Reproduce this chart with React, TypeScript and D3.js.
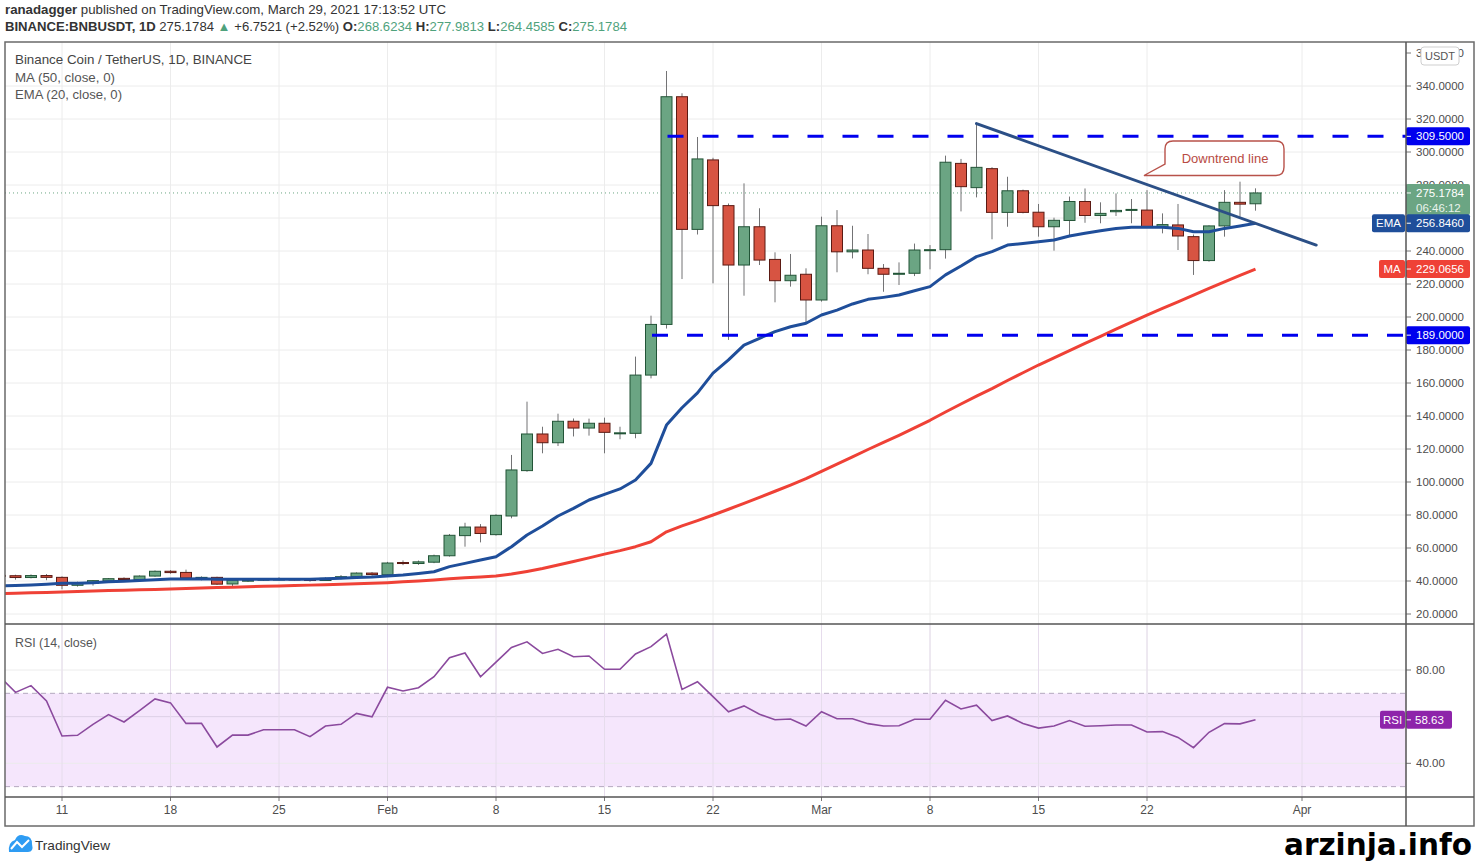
import React from "react";
import * as d3 from "d3";

// ---------- DATA ----------
const START_DATE = "2021-01-07";

const opens = [
  43.4, 43.2, 42.1, 43.3, 42.2, 37.4, 38.6, 40.0, 41.6, 40.9, 43.0, 45.9, 45.2, 41.8, 42.2, 38.2, 40.4, 40.5, 41.1, 41.2, 41.1, 40.3, 41.6, 42.6, 44.8,
  43.8, 51.2, 50.6, 51.4, 55.3, 67.5, 72.7, 68.1, 79.4, 106.9, 129.1, 123.8, 136.8, 132.7, 135.6, 129.2, 129.5, 164.8, 195.5, 333.5, 253.1, 295.2, 267.5, 231.5, 254.7, 234.9, 222.0, 225.9,
  210.3, 255.3, 239.5, 240.6, 229.5, 225.9, 226.5, 240.4, 240.8, 293.1, 278.4, 289.9, 263.4, 276.5, 263.5, 254.7, 258.5, 270.0, 261.5, 263.8, 264.6, 264.8, 254.3, 255.8, 248.7, 234.2, 255.2, 269.5, 268.6234,
];
const highs = [
  44.2, 43.8, 44.0, 44.2, 42.8, 39.6, 40.6, 41.8, 42.2, 43.4, 46.4, 46.6, 46.9, 42.8, 42.6, 40.8, 41.0, 41.5, 42.2, 41.8, 41.6, 42.2, 43.6, 45.2, 45.4,
  51.6, 52.5, 52.4, 56.0, 68.5, 75.3, 74.5, 80.5, 116.4, 148.7, 133.5, 141.4, 138.5, 138.4, 139.0, 133.5, 176.0, 200.8, 349.1, 335.6, 309.1, 296.5, 268.8, 281.0, 265.9, 239.2, 238.2, 229.5,
  260.8, 264.8, 255.3, 250.3, 232.1, 233.1, 244.5, 243.6, 297.8, 295.8, 317.2, 290.8, 285.0, 277.2, 268.5, 260.2, 273.0, 277.9, 269.5, 274.9, 271.5, 276.9, 262.8, 268.5, 250.0, 255.6, 276.9, 282.0, 277.9813,
];
const lows = [
  42.0, 40.8, 41.6, 40.5, 35.0, 36.6, 37.2, 39.4, 39.8, 40.4, 42.6, 44.4, 40.8, 40.4, 37.6, 36.4, 39.4, 40.0, 40.4, 40.2, 39.6, 40.0, 41.0, 42.2, 43.2,
  43.2, 49.6, 49.8, 50.8, 54.8, 60.8, 63.4, 67.5, 78.0, 106.2, 117.4, 121.8, 127.6, 128.1, 117.4, 125.9, 126.5, 162.8, 193.0, 223.0, 250.0, 220.4, 186.1, 212.9, 231.5, 208.9, 218.4, 196.2,
  209.3, 227.1, 235.5, 225.9, 215.3, 219.4, 224.8, 228.9, 235.4, 264.0, 272.5, 247.1, 254.7, 262.8, 248.7, 240.2, 248.7, 257.1, 256.8, 261.2, 256.8, 254.0, 250.7, 240.6, 225.5, 233.5, 248.7, 260.8, 264.4585,
];
const closes = [
  42.9, 42.1, 43.3, 42.2, 37.4, 38.9, 40.2, 41.4, 40.9, 43.0, 45.9, 45.1, 41.8, 42.2, 38.1, 40.4, 40.5, 41.1, 41.2, 41.1, 40.3, 41.6, 42.6, 44.8, 43.9,
  50.9, 50.9, 51.6, 55.3, 67.7, 72.7, 68.8, 79.8, 107.3, 129.1, 123.8, 136.8, 132.7, 135.6, 130.1, 129.8, 164.8, 195.5, 333.5, 253.1, 295.8, 267.5, 231.5, 254.7, 234.5, 222.0, 225.3, 210.3,
  255.3, 239.5, 240.6, 229.5, 225.9, 226.5, 240.6, 240.8, 293.8, 279.0, 290.7, 263.4, 276.5, 263.4, 254.7, 258.6, 270.0, 261.5, 262.8, 264.6, 265.2, 254.3, 256.0, 249.1, 234.2, 255.2, 269.5, 268.4, 275.1784,
];
const ema20 = [
  37.0, 37.3, 37.6, 38.0, 38.6, 38.7, 39.0, 39.5, 39.9, 40.3, 40.8, 41.2, 41.2, 41.3, 41.0, 41.0, 41.0, 41.0, 41.1, 41.1, 41.1, 41.3, 41.6, 42.1, 42.4,
  43.0, 43.6, 44.6, 45.6, 48.7, 50.7, 52.7, 54.7, 60.8, 67.9, 73.3, 79.4, 84.0, 89.1, 92.5, 95.8, 101.2, 111.3, 134.5, 145.0, 154.0, 166.0, 174.0, 183.0, 187.1, 191.1, 194.1, 196.2,
  201.2, 204.2, 207.9, 210.7, 211.9, 213.3, 215.9, 218.4, 225.5, 230.9, 236.6, 239.6, 243.6, 244.6, 245.6, 246.7, 249.1, 250.7, 252.3, 253.7, 254.4, 254.4, 254.4, 253.7, 251.7, 251.7, 253.7, 255.2, 256.846,
];
const ma50 = [
  32.4, 32.6, 32.9, 33.1, 33.4, 33.6, 33.9, 34.2, 34.4, 34.7, 34.9, 35.2, 35.5, 35.7, 36.0, 36.2, 36.5, 36.8, 37.0, 37.3, 37.5, 37.8, 38.1, 38.4, 38.7,
  39.0, 39.5, 40.0, 40.6, 41.3, 41.9, 42.4, 43.0, 44.2, 45.8, 47.6, 49.7, 51.8, 54.0, 56.3, 58.4, 60.8, 63.8, 69.8, 73.4, 76.6, 80.0, 83.5, 87.0, 90.7, 94.4, 98.1, 102.0,
  106.5, 110.8, 115.2, 119.7, 124.0, 128.3, 132.8, 137.4, 142.4, 147.3, 152.0, 156.6, 161.5, 166.2, 170.9, 175.2, 179.6, 184.0, 188.3, 192.6, 196.9, 201.2, 205.2, 209.2, 213.3, 217.3, 221.3, 225.2, 229.0656,
];
const rsi14 = [
  77.0, 70.4, 73.3, 66.7, 51.7, 52.0, 56.7, 60.9, 57.7, 62.6, 67.6, 65.9, 57.1, 57.1, 47.0, 52.1, 52.1, 54.4, 54.4, 54.4, 51.4, 56.0, 56.7, 61.4, 59.9,
  72.6, 71.0, 72.4, 77.1, 85.3, 87.3, 77.1, 83.4, 89.7, 92.1, 87.1, 88.9, 85.7, 86.0, 80.3, 80.3, 86.9, 90.0, 95.4, 71.7, 75.0, 68.6, 62.1, 64.6, 61.0, 58.7, 59.0, 56.0,
  62.1, 59.1, 59.1, 57.0, 56.0, 56.1, 58.9, 58.9, 67.0, 63.3, 64.9, 58.3, 60.3, 57.1, 55.1, 56.0, 58.3, 55.9, 56.1, 56.4, 56.4, 53.4, 53.6, 51.1, 46.7, 53.3, 57.0, 56.9, 58.63,
];

const xTickDates = ["2021-01-11", "2021-01-18", "2021-01-25", "2021-02-01", "2021-02-08", "2021-02-15", "2021-02-22", "2021-03-01", "2021-03-08", "2021-03-15", "2021-03-22", "2021-04-01"];
const xTickLabels = ["11", "18", "25", "Feb", "8", "15", "22", "Mar", "8", "15", "22", "Apr"];
// 260 is hidden behind the price/EMA tags in the reference
const priceTicks = [20, 40, 60, 80, 100, 120, 140, 160, 180, 200, 220, 240, 280, 300, 320, 340, 360];
const priceGrid = [20, 40, 60, 80, 100, 120, 140, 160, 180, 200, 220, 240, 260, 280, 300, 320, 340];
const rsiGrid = [40, 60, 80];
const rsiTickLabels = [40, 80];
const levelPrices = [309.5, 189.0];
const levelStarts = ["2021-02-19", "2021-02-18"];
const trendDates = ["2021-03-11T00:00:00Z", "2021-04-01T22:00:00Z"];
const trendPrices = [317.2, 243.6];

// ---------- LAYOUT ----------
const W = 1476;
const H = 862;
const L = 5;
const AX = 1406;
const R = 1474;
const TOP = 42;
const MAIN_B = 624;
const RSI_B = 797;
const XA_B = 826;

const FONT = "'Liberation Sans', Arial, sans-serif";
const UP = "#6BA583";
const UP_B = "#225437";
const DN = "#D75442";
const DN_B = "#5B1A13";
const WICK = "#737375";
const EMA_C = "#1f4e9a";
const MA_C = "#ef4136";
const LVL_C = "#0000ee";
const TREND_C = "#2b4f86";
const RSI_C = "#8b4a9e";
const RSI_TAG = "#8e24aa";
const GRID = "#ececec";
const AXIS_TXT = "#4d4d4d";

const toDate = (s: string) => new Date(s.length <= 10 ? s + "T00:00:00Z" : s);
const dates = opens.map((_, i) => d3.utcDay.offset(toDate(START_DATE), i));

const x = d3.scaleUtc().domain([toDate("2021-01-11"), toDate("2021-04-01")]).range([62, 1302]);
const y = d3.scaleLinear().domain([20, 340]).range([614, 86]);
const yR = d3.scaleLinear().domain([40, 80]).range([763.3, 670]);

const CW = 11;

const priceLine = d3
  .line<number>()
  .x((_, i) => x(dates[i]))
  .y((v) => y(v));
const rsiLine = d3
  .line<number>()
  .x((_, i) => x(dates[i]))
  .y((v) => yR(v));

const fmt4 = d3.format(".4f");

function PriceTag({ v, color, text, sub }: { v: number; color: string; text: string; sub?: string }) {
  const cy = y(v);
  const h = sub ? 31 : 18;
  const top = sub ? cy - 9 : cy - h / 2;
  return (
    <g>
      <rect x={AX} y={top} width={64} height={h} fill={color} rx={2} />
      <line x1={AX} x2={AX + 5} y1={cy} y2={cy} stroke="#fff" strokeWidth={1} />
      <text x={AX + 10} y={cy} dominantBaseline="central" fill="#fff" fontSize={11.5} fontFamily={FONT}>
        {text}
      </text>
      {sub && (
        <text x={AX + 10} y={cy + 15} dominantBaseline="central" fill="#e8f3ec" fontSize={11.5} fontFamily={FONT}>
          {sub}
        </text>
      )}
    </g>
  );
}

function SideTag({ cy, x0, color, text }: { cy: number; x0: number; color: string; text: string }) {
  return (
    <g>
      <rect x={x0} y={cy - 9} width={AX - 1 - x0} height={18} rx={2} fill={color} />
      <text x={(x0 + AX - 1) / 2} y={cy} textAnchor="middle" dominantBaseline="central" fill="#fff" fontSize={11.5} fontFamily={FONT}>
        {text}
      </text>
    </g>
  );
}

export default function App() {
  const n = opens.length;
  const lastClose = closes[n - 1];
  const lastY = y(lastClose);
  const tx0 = x(toDate(trendDates[0]));
  const tx1 = x(toDate(trendDates[1]));
  const ty0 = y(trendPrices[0]);
  const ty1 = y(trendPrices[1]);

  return (
    <svg width={W} height={H} style={{ position: "absolute", left: 0, top: 0, background: "#fff" }} fontFamily={FONT}>
      <defs>
        <clipPath id="mainClip">
          <rect x={L} y={TOP} width={AX - L} height={MAIN_B - TOP} />
        </clipPath>
        <clipPath id="rsiClip">
          <rect x={L} y={MAIN_B} width={AX - L} height={RSI_B - MAIN_B} />
        </clipPath>
      </defs>
      <rect x={0} y={0} width={W} height={H} fill="#fff" />

      {/* Header */}
      <text x={5} y={14} fontSize={13} fill="#333" textLength={441} lengthAdjust="spacingAndGlyphs">
        <tspan fontWeight="bold">ranadagger</tspan>
        <tspan> published on TradingView.com, March 29, 2021 17:13:52 UTC</tspan>
      </text>
      <text x={5} y={31} fontSize={13} fill="#333" textLength={622} lengthAdjust="spacingAndGlyphs">
        <tspan fontWeight="bold">BINANCE:BNBUSDT, 1D</tspan>
        <tspan> 275.1784 </tspan>
        <tspan fill="#4fa27c">▲</tspan>
        <tspan> +6.7521 (+2.52%) </tspan>
        <tspan fontWeight="bold">O:</tspan>
        <tspan fill="#4fa27c">268.6234</tspan>
        <tspan fontWeight="bold"> H:</tspan>
        <tspan fill="#4fa27c">277.9813</tspan>
        <tspan fontWeight="bold"> L:</tspan>
        <tspan fill="#4fa27c">264.4585</tspan>
        <tspan fontWeight="bold"> C:</tspan>
        <tspan fill="#4fa27c">275.1784</tspan>
      </text>

      {/* Grid */}
      <g>
        {xTickDates.map((d) => (
          <line key={"vg" + d} x1={x(toDate(d))} x2={x(toDate(d))} y1={TOP} y2={RSI_B} stroke={GRID} strokeWidth={1} />
        ))}
        {priceGrid.map((p) => (
          <line key={"hg" + p} x1={L} x2={AX} y1={y(p)} y2={y(p)} stroke={GRID} strokeWidth={1} clipPath="url(#mainClip)" />
        ))}
      </g>

      {/* RSI band */}
      <g clipPath="url(#rsiClip)">
        <rect x={L} y={yR(70)} width={AX - L} height={yR(30) - yR(70)} fill="#f5e6fc" />
        {rsiGrid.map((t) => (
          <line key={"rg" + t} x1={L} x2={AX} y1={yR(t)} y2={yR(t)} stroke={t === 60 ? "#ddd0e6" : GRID} strokeWidth={1} />
        ))}
        {xTickDates.map((d) => (
          <line key={"rvg" + d} x1={x(toDate(d))} x2={x(toDate(d))} y1={MAIN_B} y2={RSI_B} stroke="#e6dcec" strokeWidth={1} />
        ))}
        <line x1={L} x2={AX} y1={yR(70)} y2={yR(70)} stroke="#b4a8bf" strokeDasharray="5 4" />
        <line x1={L} x2={AX} y1={yR(30)} y2={yR(30)} stroke="#b4a8bf" strokeDasharray="5 4" />
        <path d={rsiLine(rsi14) || ""} fill="none" stroke={RSI_C} strokeWidth={1.6} />
      </g>

      {/* Main pane */}
      <g clipPath="url(#mainClip)">
        <line x1={L} x2={AX} y1={lastY} y2={lastY} stroke={UP} strokeWidth={1} strokeDasharray="1 3" />
        {opens.map((o, i) => {
          const c = closes[i];
          const up = c >= o;
          const cx = x(dates[i]);
          const yt = y(Math.max(o, c));
          const yb = y(Math.min(o, c));
          return (
            <g key={"c" + i}>
              <line x1={cx} x2={cx} y1={y(highs[i])} y2={y(lows[i])} stroke={WICK} strokeWidth={1} />
              <rect
                x={cx - CW / 2}
                y={yt}
                width={CW}
                height={Math.max(1, yb - yt)}
                fill={up ? UP : DN}
                stroke={up ? UP_B : DN_B}
                strokeWidth={1}
              />
            </g>
          );
        })}
        <path d={priceLine(ma50) || ""} fill="none" stroke={MA_C} strokeWidth={3} strokeLinejoin="round" />
        <path d={priceLine(ema20) || ""} fill="none" stroke={EMA_C} strokeWidth={3} strokeLinejoin="round" />
        {levelPrices.map((p, i) => (
          <line
            key={"lvl" + p}
            x1={x(toDate(levelStarts[i])) + 1}
            x2={AX}
            y1={y(p)}
            y2={y(p)}
            stroke={LVL_C}
            strokeWidth={3}
            strokeDasharray="16 19"
          />
        ))}
        <line x1={tx0} y1={ty0} x2={tx1} y2={ty1} stroke={TREND_C} strokeWidth={3} strokeLinecap="round" />
        {/* Callout */}
        <path
          d="M 1144 175.5 L 1165 164 L 1165 149 Q 1165 141 1173 141 L 1276 141 Q 1284 141 1284 149 L 1284 167 Q 1284 175.5 1276 175.5 Z"
          fill="#fff"
          stroke="#b8524a"
          strokeWidth={1.4}
        />
        <text x={1225} y={158} textAnchor="middle" dominantBaseline="central" fontSize={13} fill="#b84b43">
          Downtrend line
        </text>
      </g>

      {/* Legend */}
      <text x={15} y={64} fontSize={13} fill="#444" textLength={237} lengthAdjust="spacingAndGlyphs">
        Binance Coin / TetherUS, 1D, BINANCE
      </text>
      <text x={15} y={82} fontSize={13} fill="#555" textLength={100} lengthAdjust="spacingAndGlyphs">
        MA (50, close, 0)
      </text>
      <text x={15} y={99} fontSize={13} fill="#555" textLength={107} lengthAdjust="spacingAndGlyphs">
        EMA (20, close, 0)
      </text>
      <text x={15} y={647} fontSize={13} fill="#555" textLength={82} lengthAdjust="spacingAndGlyphs">
        RSI (14, close)
      </text>

      {/* Price axis */}
      <g>
        {priceTicks.map((p) => (
          <g key={"pt" + p}>
            <line x1={AX} x2={AX + 5} y1={y(p)} y2={y(p)} stroke="#777" />
            <text x={AX + 10} y={y(p)} dominantBaseline="central" fontSize={11.5} fill={AXIS_TXT}>
              {fmt4(p)}
            </text>
          </g>
        ))}
        <rect x={1421} y={47} width={38} height={18} rx={3} fill="#fff" stroke="#cfcfcf" />
        <text x={1440} y={56} textAnchor="middle" dominantBaseline="central" fontSize={11} fill="#555">
          USDT
        </text>
        {levelPrices.map((p) => (
          <PriceTag key={"lt" + p} v={p} color={LVL_C} text={fmt4(p)} />
        ))}
        <PriceTag v={lastClose} color={UP} text={fmt4(lastClose)} sub="06:46:12" />
        <PriceTag v={ema20[n - 1]} color={EMA_C} text={fmt4(ema20[n - 1])} />
        <SideTag cy={y(ema20[n - 1])} x0={1372} color={EMA_C} text="EMA" />
        <PriceTag v={ma50[n - 1]} color={MA_C} text={fmt4(ma50[n - 1])} />
        <SideTag cy={y(ma50[n - 1])} x0={1379} color={MA_C} text="MA" />
      </g>

      {/* RSI axis */}
      <g>
        {rsiGrid.map((t) => (
          <line key={"rtk" + t} x1={AX} x2={AX + 5} y1={yR(t)} y2={yR(t)} stroke="#777" />
        ))}
        {rsiTickLabels.map((t) => (
          <text key={"rt" + t} x={AX + 10} y={yR(t)} dominantBaseline="central" fontSize={11.5} fill={AXIS_TXT}>
            {d3.format(".2f")(t)}
          </text>
        ))}
        <rect x={AX} y={yR(rsi14[n - 1]) - 9} width={46} height={18} rx={2} fill={RSI_TAG} />
        <line x1={AX} x2={AX + 5} y1={yR(rsi14[n - 1])} y2={yR(rsi14[n - 1])} stroke="#fff" />
        <text x={AX + 9} y={yR(rsi14[n - 1])} dominantBaseline="central" fontSize={11.5} fill="#fff">
          {d3.format(".2f")(rsi14[n - 1])}
        </text>
        <SideTag cy={yR(rsi14[n - 1])} x0={1380} color={RSI_TAG} text="RSI" />
      </g>

      {/* X axis */}
      <g>
        {xTickDates.map((d, i) => (
          <g key={"xt" + d}>
            <line x1={x(toDate(d))} x2={x(toDate(d))} y1={RSI_B} y2={RSI_B + 4} stroke="#777" />
            <text x={x(toDate(d))} y={810} textAnchor="middle" dominantBaseline="central" fontSize={12} fill={AXIS_TXT}>
              {xTickLabels[i]}
            </text>
          </g>
        ))}
      </g>

      {/* Frame */}
      <rect x={L} y={TOP} width={R - L} height={XA_B - TOP} fill="none" stroke="#6a6a6a" strokeWidth={1.5} />
      <line x1={L} x2={R} y1={MAIN_B} y2={MAIN_B} stroke="#555" strokeWidth={1.5} />
      <line x1={L} x2={R} y1={RSI_B} y2={RSI_B} stroke="#555" strokeWidth={1.5} />
      <line x1={AX} x2={AX} y1={TOP} y2={XA_B} stroke="#555" strokeWidth={1.5} />

      {/* TradingView logo */}
      <g>
        <path d="M 9 852 Q 8 842 15 840 Q 18 833 25 836 Q 32 836 32 844 Q 34 852 28 852 Z" fill="#2e9cf3" />
        <path d="M 11 849 L 17 842 L 22 847 L 29 840" fill="none" stroke="#fff" strokeWidth={2} />
        <text x={35} y={845} dominantBaseline="central" fontSize={13} fill="#333" textLength={75} lengthAdjust="spacingAndGlyphs">
          TradingView
        </text>
      </g>

      {/* Watermark */}
      <text
        x={1284}
        y={855}
        fontSize={31}
        fontWeight="bold"
        fill="#000"
        fontFamily="'DejaVu Sans Condensed', 'DejaVu Sans', sans-serif"
        textLength={188}
        lengthAdjust="spacingAndGlyphs"
      >
        arzinja.info
      </text>
    </svg>
  );
}
